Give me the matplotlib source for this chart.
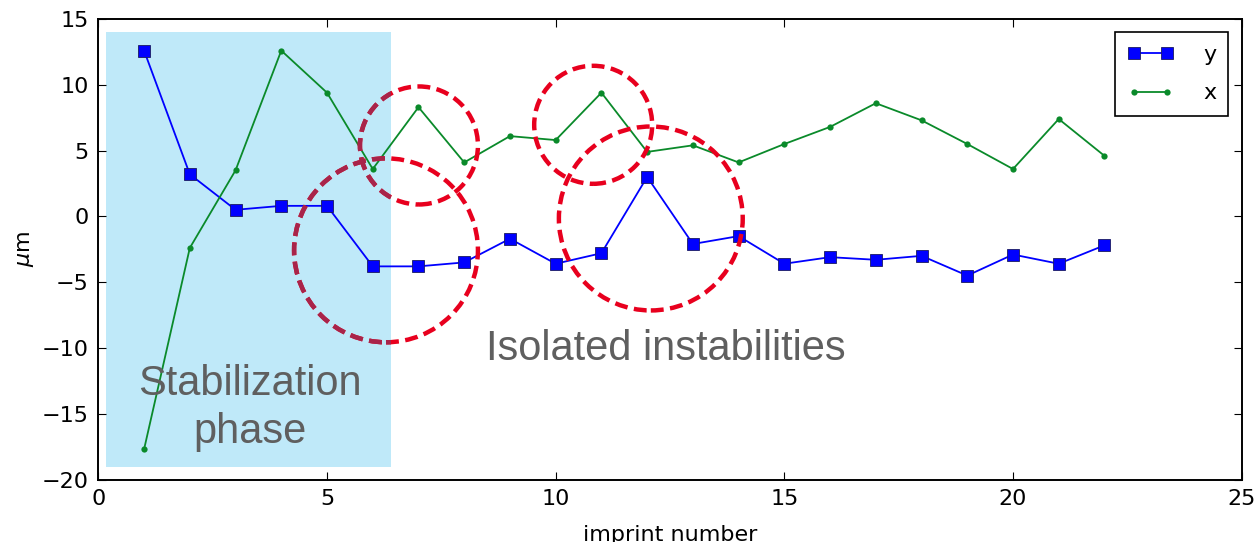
import matplotlib
matplotlib.use("Agg")
import matplotlib.pyplot as plt
from matplotlib.patches import Rectangle, Ellipse

# data
imprint = list(range(1, 23))
y_um = [12.6, 3.2, 0.5, 0.8, 0.8, -3.8, -3.8, -3.5, -1.7, -3.6, -2.8,
        3.0, -2.1, -1.5, -3.6, -3.1, -3.3, -3.0, -4.5, -2.9, -3.6, -2.2]
x_um = [-17.7, -2.4, 3.5, 12.6, 9.4, 3.6, 8.3, 4.1, 6.1, 5.8, 9.4,
        4.9, 5.4, 4.1, 5.5, 6.8, 8.6, 7.3, 5.5, 3.6, 7.4, 4.6]

# stabilization band (x0, x1, y0, y1)
band = (0.17, 6.41, -19.07, 14.0)

# highlighted spots: (center x, center y, width, height)
small_spots = [(7.01, 5.39, 2.58, 8.97), (10.82, 6.96, 2.58, 8.97)]
big_spots = [(6.29, -2.58, 4.02, 13.98), (12.08, -0.16, 4.02, 13.98)]

fig = plt.figure(figsize=(12.56, 5.42), dpi=100)
ax = fig.add_axes([0.0783, 0.1153, 0.9103, 0.8496])

rect = Rectangle((band[0], band[2]), band[1] - band[0], band[3] - band[2],
                 facecolor="#bfe9f9", edgecolor="none", zorder=0)
ax.add_patch(rect)

ax.plot(imprint, y_um, color="#0000ff", marker="s", markersize=8.5,
        markeredgecolor="#1a1a60", markeredgewidth=0.6, linewidth=1.3,
        label="y", zorder=3)
ax.plot(imprint, x_um, color="#0a8a2a", marker="o", markersize=4.5,
        markeredgewidth=0, linewidth=1.3, label="x", zorder=3)

dash = (0, (2.9, 1.45))
for cx, cy, w, h in small_spots + big_spots:
    e = Ellipse((cx, cy), w, h, fill=False, edgecolor="#e8001e",
                linewidth=3.2, linestyle=dash, zorder=4)
    ax.add_patch(e)
    e2 = Ellipse((cx, cy), w, h, fill=False, edgecolor="#a8244a",
                 linewidth=3.2, linestyle=dash, zorder=4.1)
    ax.add_patch(e2)
    e2.set_clip_path(rect)

txt_color = "#5f5f5f"
ax.text(3.31, -13.54, "Stabilization", ha="center", va="baseline",
        fontsize=30, color=txt_color, family="Liberation Sans", zorder=5)
ax.text(3.31, -17.23, "phase", ha="center", va="baseline",
        fontsize=30, color=txt_color, family="Liberation Sans", zorder=5)
ax.text(12.41, -10.95, "Isolated instabilities", ha="center", va="baseline",
        fontsize=30, color=txt_color, family="Liberation Sans", zorder=5)

ax.set_xlim(0, 25)
ax.set_ylim(-20, 15)
ax.set_xticks([0, 5, 10, 15, 20, 25])
ax.set_yticks([-20, -15, -10, -5, 0, 5, 10, 15])
ax.tick_params(direction="in", top=True, right=True, length=6, width=0.8,
               labelsize=16, pad=7)
for s in ax.spines.values():
    s.set_linewidth(1.4)
ax.set_xlabel("imprint number", fontsize=16, labelpad=11)
ax.set_ylabel(r"$\mu$m", fontsize=16)

leg = ax.legend(loc="upper right", numpoints=2, fontsize=16, fancybox=False,
                framealpha=1, edgecolor="black", handlelength=2.1,
                handletextpad=1.3, borderaxespad=0.6, borderpad=0.55,
                labelspacing=0.85)
leg.get_frame().set_linewidth(1.2)

fig.savefig("out.png", dpi=100, facecolor="white")
